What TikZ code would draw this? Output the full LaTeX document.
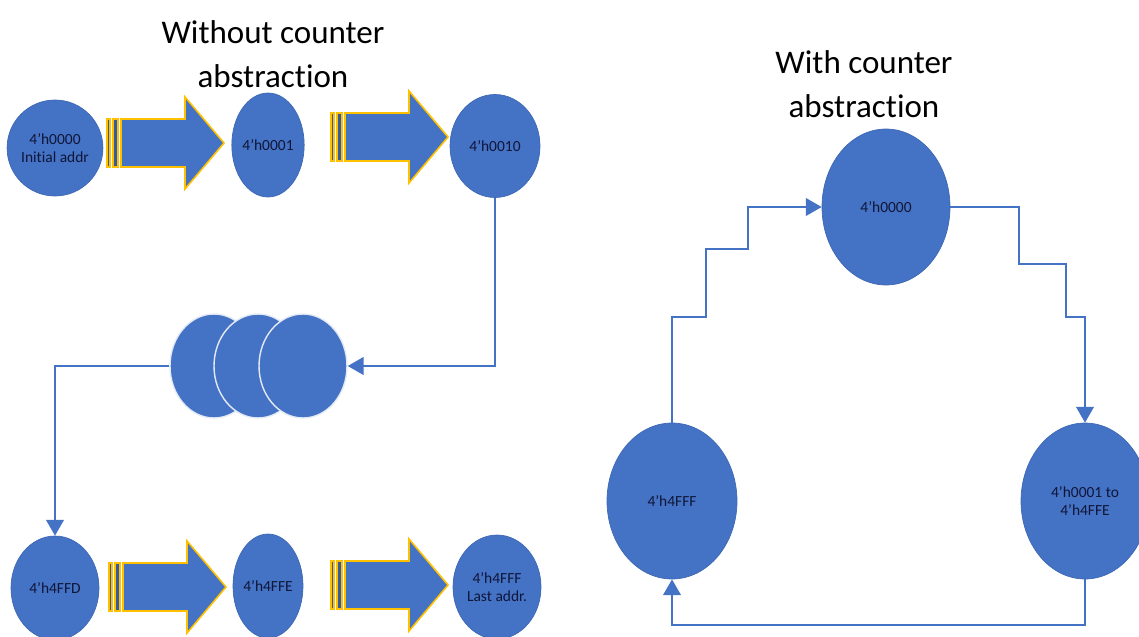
\documentclass[tikz,border=0pt]{standalone}
\usepackage{fontspec}
\setmainfont{Carlito}[Ligatures=NoCommon]
\usetikzlibrary{shapes.geometric, arrows.meta}
\definecolor{officeblue}{RGB}{68,114,196}
\definecolor{edgeblue}{RGB}{62,104,180}
\definecolor{barblue}{RGB}{52,90,165}
\definecolor{arrowgold}{RGB}{255,192,0}
\definecolor{labelnavy}{RGB}{16,22,56}

\begin{document}
\begin{tikzpicture}[x=0.02cm, y=-0.02cm]
        \tikzset{addr/.style={ellipse, fill=officeblue, draw=edgeblue, inner sep=0pt, align=center,
                 text=labelnavy, font=\fontsize{8.8}{10.5}\selectfont, minimum width=1.76cm, minimum height=2.08cm}}
        \tikzset{gapaddr/.style={addr, draw=white!85!officeblue, line width=0.8pt}}
        \tikzset{link/.style={draw=officeblue, line width=1.2pt, -{Triangle[width=10pt, length=9pt]}}}
        \tikzset{blockarrow/.style={fill=officeblue, draw=arrowgold, line width=0.9pt, line join=miter}}
        \tikzset{heading/.style={align=center, font=\fontsize{18.8}{25}\selectfont}}
        \tikzset{stripearrow/.pic={
                \filldraw[blockarrow, fill=barblue] (0,-24) rectangle (3,24);
                \filldraw[blockarrow, fill=barblue] (6,-24) rectangle (11,24);
                \filldraw[blockarrow] (14,-24) -- (78,-24) -- (78,-46) -- (117,0) -- (78,46) -- (78,24) -- (14,24) -- cycle;
        }}

        \clip (0,0) rectangle (1139,636);

        \node[heading] (titleleft) at (273,54) {Without counter\\abstraction};
        \node[heading] (titleright) at (864,84) {With counter\\abstraction};

        \node[addr, minimum width=1.72cm, minimum height=1.92cm] (s0000) at (55,148) {4'h0000\\Initial addr};
        \node[addr, minimum width=1.4cm] (s0001) at (268,145) {4'h0001};
        \node[addr, minimum width=1.8cm, minimum height=2.06cm] (s0010) at (495,146) {4'h0010};

        \pic at (107,143) {stripearrow};
        \pic at (331,137) {stripearrow};

        \node[gapaddr] (gap1) at (214,366) {};
        \node[gapaddr] (gap2) at (258,366) {};
        \node[gapaddr] (gap3) at (303,366) {};

        \node[addr] (s4ffd) at (55,588) {4'h4FFD};
        \node[addr, minimum width=1.4cm] (s4ffe) at (268,586) {4'h4FFE};
        \node[addr] (s4fff) at (497,587) {4'h4FFF\\Last addr.};

        \pic at (109,587) {stripearrow};
        \pic at (331,585) {stripearrow};

        \draw[link] (s0010.south) |- (gap3.east);
        \draw[link] (gap1.west) -| (s4ffd.north);

        \node[addr, minimum width=2.56cm, minimum height=3.12cm] (r0000) at (886,207) {4'h0000};
        \node[addr, minimum width=2.6cm, minimum height=3.12cm] (r4fff) at (672,501) {4'h4FFF};
        \node[addr, minimum width=2.56cm, minimum height=3.12cm] (rmid) at (1085,501) {4'h0001 to\\4'h4FFE};

        \draw[link] (r4fff.north) -- ++(0,-106) -- ++(34,0) -- ++(0,-68) -- ++(42,0) |- (r0000.west);
        \draw[link] (r0000.east) -- ++(69,0) -- ++(0,57) -- ++(47,0) -- ++(0,53) -| (rmid.north);
        \draw[link] (rmid.south) -- ++(0,46) -| (r4fff.south);
    \end{tikzpicture}
\end{document}
